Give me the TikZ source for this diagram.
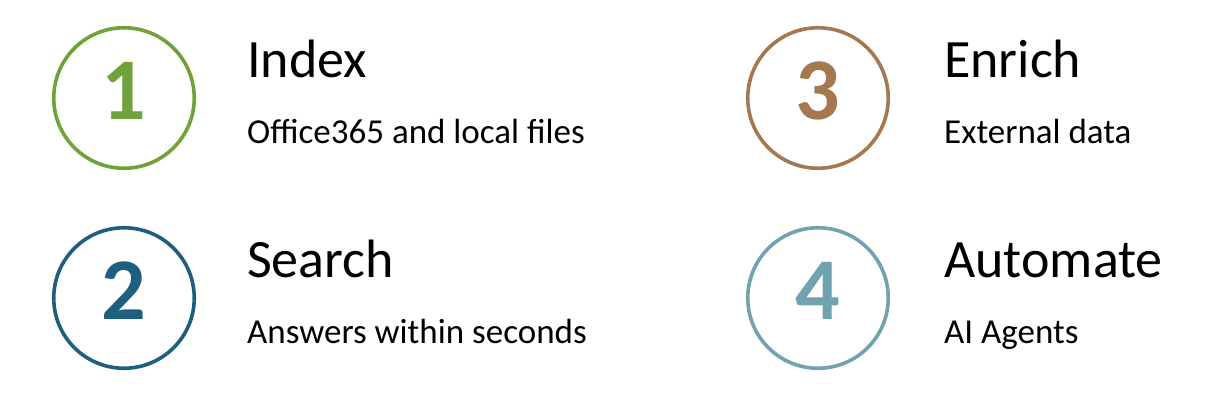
\documentclass[tikz,border=0pt]{standalone}
\usepackage{fontspec}
\setmainfont{Carlito}
\usepackage{xcolor}
\definecolor{indexgreen}{RGB}{112,162,60}
\definecolor{searchblue}{RGB}{30,94,126}
\definecolor{enrichbrown}{RGB}{166,120,80}
\definecolor{autoteal}{RGB}{112,162,176}
\usetikzlibrary{positioning}

\begin{document}
\begin{tikzpicture}[x=1pt, y=-1pt]
      % Styles
      \tikzset{stepcircle/.style={draw, circle, line width=3.6pt, minimum size=140.5pt, inner sep=0pt}}
      \tikzset{stepnum/.style={inner sep=0pt, font=\fontsize{88}{88}\selectfont\bfseries}}
      \tikzset{heading/.style={anchor=base west, inner sep=0pt, font=\fontsize{54}{54}\selectfont}}
      \tikzset{subline/.style={anchor=base west, inner sep=0pt, font=\fontsize{35}{35}\selectfont}}

      \useasboundingbox (0,0) rectangle (1217,408);

      % --- The numbered circles ---
      \node[stepcircle, indexgreen] (circ1) at (124, 98) {};
      \node[stepcircle, searchblue] (circ2) at (124, 298) {};
      \node[stepcircle, enrichbrown] (circ3) at (818, 98) {};
      \node[stepcircle, autoteal] (circ4) at (818, 298) {};

      \node[stepnum, indexgreen] (num1) at (124, 91) {1};
      \node[stepnum, searchblue] (num2) at (124, 291) {2};
      \node[stepnum, enrichbrown] (num3) at (818, 91) {3};
      \node[stepnum, autoteal] (num4) at (818, 291) {4};

      % --- The headings and their lines ---
      \node[heading] (head1) at (247, 77) {Index};
      \node[subline] (sub1) at (247, 143) {Office365 and local files};
      \node[heading] (head2) at (247, 277) {Search};
      \node[subline] (sub2) at (247, 343) {Answers within seconds};
      \node[heading] (head3) at (944, 77) {Enrich};
      \node[subline] (sub3) at (944, 143) {External data};
      \node[heading] (head4) at (944, 277) {Automate};
      \node[subline] (sub4) at (944, 343) {AI Agents};

    \end{tikzpicture}
\end{document}
